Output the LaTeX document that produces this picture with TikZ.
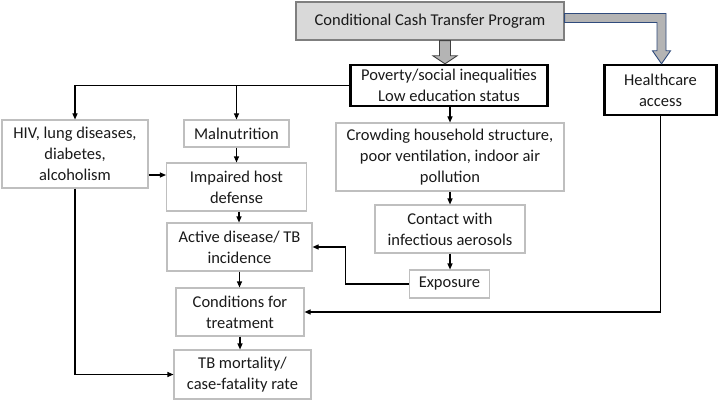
\documentclass[tikz,border=0pt]{standalone}
\usepackage{fontspec}
\setmainfont{Carlito}
\usetikzlibrary{arrows.meta,calc}
\definecolor{boxgray}{HTML}{BFBFBF}
\definecolor{cctfill}{HTML}{D9D9D9}
\definecolor{cctline}{HTML}{7F7F7F}
\definecolor{blockfill}{HTML}{B4B4B4}
\definecolor{blockline}{HTML}{404040}
\definecolor{blockblue}{HTML}{2F4B7C}
\definecolor{txt}{HTML}{1A1A1A}
\begin{document}
\begin{tikzpicture}[x=1pt,y=-1pt,
  every node/.style={font=\fontsize{16.5}{21}\selectfont, text=txt, align=center, inner sep=0pt},
  box/.style={draw=boxgray, line width=1.1pt, fill=white},
  keybox/.style={draw=black, line width=2.4pt, fill=white},
  cctbox/.style={draw=cctline, line width=1.2pt, fill=cctfill},
  arr/.style={draw=black, line width=1.1pt, -{Triangle[length=6pt,width=5pt]}},
  blockD/.style={fill=blockfill, draw=blockline, line width=0.9pt, line join=miter},
  blockR/.style={fill=blockfill, draw=blockblue, line width=0.9pt, line join=miter}]
\useasboundingbox (0,0) rectangle (720,401);
\fill[white] (0,0) rectangle (720,401);
% nodes
\node[cctbox, minimum width=268pt, minimum height=38pt] (cct) at (430,21) {Conditional Cash Transfer Program};
\node[keybox, minimum width=197pt, minimum height=41pt] (pov) at (449,85.5) {Poverty/social inequalities\\Low education status};
\node[keybox, minimum width=112pt, minimum height=50pt] (hc) at (660.5,90) {Healthcare\\access};
\node[box, minimum width=146pt, minimum height=68pt] (hiv) at (75,154) {HIV, lung diseases,\\diabetes,\\alcoholism};
\node[box, minimum width=105pt, minimum height=27pt] (mal) at (236.5,133.5) {Malnutrition};
\node[box, minimum width=140pt, minimum height=48pt] (imp) at (236.5,187) {Impaired host\\defense};
\node[box, minimum width=145pt, minimum height=48pt] (act) at (239.5,247) {Active disease/ TB\\incidence};
\node[box, minimum width=128pt, minimum height=48pt] (cond) at (240,312) {Conditions for\\treatment};
\node[box, minimum width=137pt, minimum height=49pt] (tbm) at (242.5,374.5) {TB mortality/\\case-fatality rate};
\node[box, minimum width=228pt, minimum height=68pt] (crowd) at (450,157) {Crowding household structure,\\poor ventilation, indoor air\\pollution};
\node[box, minimum width=150pt, minimum height=48pt] (contact) at (450,229) {Contact with\\infectious aerosols};
\node[box, minimum width=80pt, minimum height=28pt] (expo) at (449.5,284) {Exposure};
% block arrows
\filldraw[blockD] let \p1=(cct.south), \p2=([xshift=-4pt]pov.north) in
  (\x2-5.5pt,\y1) -- (\x2+5.5pt,\y1) -- (\x2+5.5pt,\y2+8pt) -- (\x2+12pt,\y2+8pt) -- (\x2,\y2)
  -- (\x2-12pt,\y2+8pt) -- (\x2-5.5pt,\y2+8pt) -- cycle;
\filldraw[blockR] let \p1=([yshift=3pt]cct.east), \p2=([xshift=1pt]hc.north) in
  (\x1,\y1+4.5pt) -- (\x2+4.5pt,\y1+4.5pt) -- (\x2+4.5pt,\y2+13pt) -- (\x2+9pt,\y2+13pt) -- (\x2,\y2)
  -- (\x2-9pt,\y2+13pt) -- (\x2-4.5pt,\y2+13pt) -- (\x2-4.5pt,\y1-4.5pt) -- (\x1,\y1-4.5pt) -- cycle;
% connectors
\draw[arr] (pov.west) -| (hiv.north);
\draw[arr] (pov.west -| mal.north) -- (mal.north);
\draw[arr] (pov.south -| crowd.north) -- (crowd.north);
\draw[arr] (crowd.south) -- (crowd.south |- contact.north);
\draw[arr] (contact.south) -- (contact.south |- expo.north);
\draw[arr] (mal.south) -- (mal.south |- imp.north);
\draw[arr] ([yshift=-21pt]hiv.east) -- ([yshift=-21pt]hiv.east -| imp.west);
\draw[arr] ([xshift=2.5pt]imp.south) -- ([xshift=2.5pt]imp.south |- act.north);
\draw[arr] (act.south) -- (act.south |- cond.north);
\draw[arr] (cond.south) -- (cond.south |- tbm.north);
\draw[arr] (expo.west) -| ([xshift=33pt]act.east) -- (act.east);
\draw[arr] (hc.south) |- (cond.east);
\draw[arr] (hiv.south) |- (tbm.west);
\end{tikzpicture}
\end{document}
